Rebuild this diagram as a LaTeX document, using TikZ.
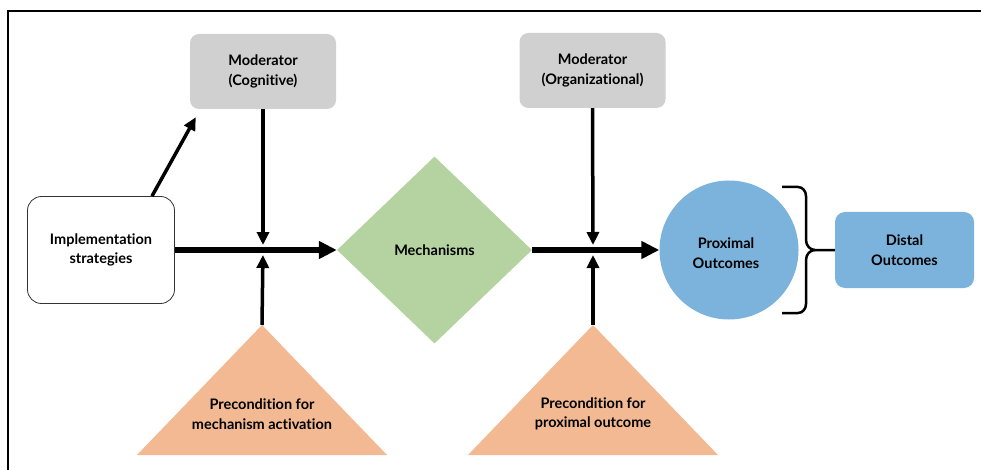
\documentclass[tikz,border=0pt]{standalone}
\usepackage{fontspec}
\setmainfont{Lato}[Ligatures={NoCommon}]
\usepackage{xcolor}
\usepackage{tikz}
\usetikzlibrary{shapes,arrows,positioning,calc,arrows.meta}

\definecolor{modgray}{RGB}{208,208,208}
\definecolor{mechgreen}{RGB}{180,211,160}
\definecolor{preorange}{RGB}{242,185,146}
\definecolor{outblue}{RGB}{124,179,220}

\tikzset{
    lbl/.style={font=\bfseries\fontsize{14.5}{19.5}\selectfont, align=center, text=black},
    implbox/.style={lbl, draw=black!80, line width=0.8pt, rounded corners=14pt, minimum width=147pt, minimum height=107pt, inner sep=0pt},
    modbox/.style={lbl, fill=modgray, rounded corners=9pt, minimum width=146pt, minimum height=75pt, inner sep=0pt},
    mechdiam/.style={lbl, diamond, fill=mechgreen, minimum width=195pt, minimum height=187pt, inner sep=0pt},
    proxcirc/.style={lbl, circle, fill=outblue, minimum size=139pt, inner sep=0pt},
    distbox/.style={lbl, fill=outblue, rounded corners=10pt, minimum width=139pt, minimum height=76pt, inner sep=0pt},
    flow/.style={line width=5.5pt, -{Triangle[length=18pt,width=17pt]}},
    feed/.style={line width=3.5pt, -{Triangle[length=13pt,width=12pt]}},
    bracket/.style={line width=2.5pt}
}

\begin{document}
\begin{tikzpicture}[x=1pt,y=-1pt]
    \useasboundingbox (0,0) rectangle (981,470);
    % Frame
    \draw[line width=1.5pt] (8,470) -- (8,11) -- (981,11);

    % Main chain
    \node[implbox] (impl) at (101,250) {Implementation\\strategies};
    \node[mechdiam] (mech) at (434.5,250) {Mechanisms};
    \node[proxcirc] (prox) at (729,250) {};
    \node[lbl] (proxtxt) at (726,253) {Proximal\\Outcomes};
    \node[distbox] (dist) at (904.5,250) {Distal\\Outcomes};

    % Moderators
    \node[modbox] (modcog) at (263,71.5) {Moderator\\(Cognitive)};
    \node[modbox] (modorg) at (592.5,70.5) {Moderator\\(Organizational)};

    % Junctions on the main line
    \coordinate (j1) at (263,250);
    \coordinate (j2) at (593,250);

    % Preconditions
    \foreach \n/\x/\t in {pre1/262/{Precondition for\\mechanism activation}, pre2/593/{Precondition for\\proximal outcome}} {
        \fill[preorange] (\x-125,455) -- (\x,325) coordinate (\n apex) -- (\x+125,455) -- cycle;
        \node[lbl] (\n) at (\x,414) {\t};
    }

    % Arrows
    \draw[flow] (impl.east) -- (mech.west);
    \draw[flow] (mech.east) -- (prox.west);
    \draw[feed] ([xshift=51pt]impl.north) -- ([shift={(6pt,-8pt)}]modcog.south west);
    \draw[feed, shorten >=5pt] (modcog.south) -- (j1);
    \draw[feed, shorten >=5pt] (pre1apex) -- (j1);
    \draw[feed, shorten >=5pt] (modorg.south) -- (j2);
    \draw[feed, shorten >=5pt] (pre2apex) -- (j2);

    % Bracket to distal outcomes
    \draw[bracket] (782,187) -- (798,187) to[out=0,in=90] (806,196) -- (806,240) to[out=-90,in=180] (815,250) -- (dist.west);
    \draw[bracket] (782,313) -- (798,313) to[out=0,in=-90] (806,304) -- (806,260) to[out=90,in=180] (815,250);
\end{tikzpicture}
\end{document}
